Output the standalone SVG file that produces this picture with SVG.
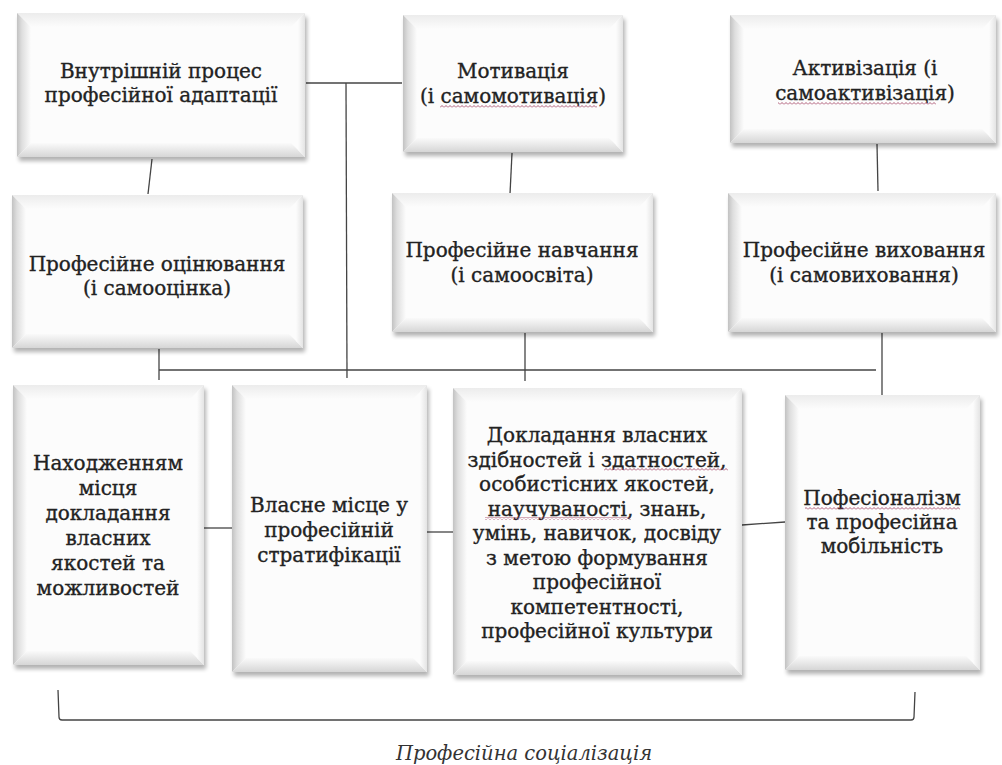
<svg xmlns="http://www.w3.org/2000/svg" width="1002" height="765" viewBox="0 0 1002 765">
<style>
.face{fill:#fcfcfc}
.sh{fill:#000;opacity:.3;filter:url(#blur)}
.bl{fill:url(#gL)}
.bt{fill:url(#gT)}
.bb{fill:url(#gB)}
.br{fill:url(#gR)}
.t{font-family:"DejaVu Serif","Liberation Serif",serif;font-size:20px;fill:#222;stroke:#222;stroke-width:0.35;text-anchor:middle}
.c{fill:none;stroke:#444;stroke-width:1.3}
.w{fill:url(#wave)}
.cap{font-family:"DejaVu Serif","Liberation Serif",serif;font-size:19.5px;font-style:italic;fill:#333;text-anchor:middle}
</style>
<defs>
<filter id="blur" x="-10%" y="-10%" width="120%" height="120%"><feGaussianBlur stdDeviation="2"/></filter>
<linearGradient id="gL" x1="0" y1="0" x2="1" y2="0"><stop offset="0" stop-color="#c2c2c2"/><stop offset="0.35" stop-color="#dedede"/><stop offset="1" stop-color="#fcfcfc"/></linearGradient>
<linearGradient id="gT" x1="0" y1="0" x2="0" y2="1"><stop offset="0" stop-color="#ececec"/><stop offset="1" stop-color="#fcfcfc"/></linearGradient>
<linearGradient id="gB" x1="0" y1="0" x2="0" y2="1"><stop offset="0" stop-color="#fafafa"/><stop offset="1" stop-color="#d6d6d6"/></linearGradient>
<linearGradient id="gR" x1="0" y1="0" x2="1" y2="0"><stop offset="0" stop-color="#fcfcfc"/><stop offset="1" stop-color="#e4e4e4"/></linearGradient>
<pattern id="wave" width="4" height="3" patternUnits="userSpaceOnUse"><path d="M0 2.5 L2 0.5 L4 2.5" fill="none" stroke="#9a3558" stroke-width="0.8"/></pattern>
</defs>
<rect width="1002" height="765" fill="#fff"/>

<g id="connectors">
<path class="c" d="M306 83 H402"/>
<path class="c" d="M346 83 L347 378"/>
<path class="c" d="M152 159 L148 194"/>
<path class="c" d="M512 153 L510 194"/>
<path class="c" d="M877 144 L878 191"/>
<path class="c" d="M159 349 V380"/>
<path class="c" d="M159 370 H876"/>
<path class="c" d="M525 333 V381"/>
<path class="c" d="M882 333 V397"/>
<path class="c" d="M204 528 H232"/>
<path class="c" d="M427 532 H455"/>
<path class="c" d="M742 525 L785 522"/>
<path class="c" d="M58 690 L59 717 Q59 720 62 720 L911 720 Q914 720 914 717 L915 692"/>
</g>

<g id="n1">
<rect class="sh" x="19" y="17" width="288" height="144"/>
<rect class="face" x="17" y="13" width="288" height="144"/>
<polygon class="bt" points="17,13 305,13 291,27 31,27"/>
<polygon class="bl" points="17,13 31,27 31,143 17,157"/>
<polygon class="bb" points="17,157 31,143 291,143 305,157"/>
<polygon class="br" points="305,13 305,157 298,150 298,20"/>
<text class="t" x="161" y="78">Внутрішній процес</text>
<text class="t" x="161" y="102">професійної адаптації</text>
</g>

<g id="n2">
<rect class="sh" x="405" y="19" width="220" height="137"/>
<rect class="face" x="403" y="15" width="220" height="137"/>
<polygon class="bt" points="403,15 623,15 609,29 417,29"/>
<polygon class="bl" points="403,15 417,29 417,138 403,152"/>
<polygon class="bb" points="403,152 417,138 609,138 623,152"/>
<polygon class="br" points="623,15 623,152 616,145 616,22"/>
<text class="t" x="513" y="78">Мотивація</text>
<text class="t" x="513" y="103">(і самомотивація)</text>
<rect class="w" x="440" y="105" width="157" height="3"/>
</g>

<g id="n3">
<rect class="sh" x="732" y="19" width="266" height="128"/>
<rect class="face" x="730" y="15" width="266" height="128"/>
<polygon class="bt" points="730,15 996,15 982,29 744,29"/>
<polygon class="bl" points="730,15 744,29 744,129 730,143"/>
<polygon class="bb" points="730,143 744,129 982,129 996,143"/>
<polygon class="br" points="996,15 996,143 989,136 989,22"/>
<text class="t" x="865" y="75">Активізація (і</text>
<text class="t" x="865" y="100">самоактивізація)</text>
<rect class="w" x="778" y="102" width="158" height="3"/>
</g>

<g id="n4">
<rect class="sh" x="14" y="199" width="291" height="153"/>
<rect class="face" x="12" y="195" width="291" height="153"/>
<polygon class="bt" points="12,195 303,195 289,209 26,209"/>
<polygon class="bl" points="12,195 26,209 26,334 12,348"/>
<polygon class="bb" points="12,348 26,334 289,334 303,348"/>
<polygon class="br" points="303,195 303,348 296,341 296,202"/>
<text class="t" x="157" y="271">Професійне оцінювання</text>
<text class="t" x="157" y="295">(і самооцінка)</text>
</g>

<g id="n5">
<rect class="sh" x="394" y="197" width="261" height="139"/>
<rect class="face" x="392" y="193" width="261" height="139"/>
<polygon class="bt" points="392,193 653,193 639,207 406,207"/>
<polygon class="bl" points="392,193 406,207 406,318 392,332"/>
<polygon class="bb" points="392,332 406,318 639,318 653,332"/>
<polygon class="br" points="653,193 653,332 646,325 646,200"/>
<text class="t" x="522" y="257">Професійне навчання</text>
<text class="t" x="522" y="282">(і самоосвіта)</text>
</g>

<g id="n6">
<rect class="sh" x="730" y="197" width="268" height="139"/>
<rect class="face" x="728" y="193" width="268" height="139"/>
<polygon class="bt" points="728,193 996,193 982,207 742,207"/>
<polygon class="bl" points="728,193 742,207 742,318 728,332"/>
<polygon class="bb" points="728,332 742,318 982,318 996,332"/>
<polygon class="br" points="996,193 996,332 989,325 989,200"/>
<text class="t" x="864" y="257">Професійне виховання</text>
<text class="t" x="864" y="282">(і самовиховання)</text>
</g>

<g id="n7">
<rect class="sh" x="15" y="389" width="191" height="280"/>
<rect class="face" x="13" y="385" width="191" height="280"/>
<polygon class="bt" points="13,385 204,385 190,399 27,399"/>
<polygon class="bl" points="13,385 27,399 27,651 13,665"/>
<polygon class="bb" points="13,665 27,651 190,651 204,665"/>
<polygon class="br" points="204,385 204,665 197,658 197,392"/>
<text class="t" x="108" y="470">Находженням</text>
<text class="t" x="108" y="495">місця</text>
<text class="t" x="108" y="520">докладання</text>
<text class="t" x="108" y="545">власних</text>
<text class="t" x="108" y="570">якостей та</text>
<text class="t" x="108" y="595">можливостей</text>
</g>

<g id="n8">
<rect class="sh" x="234" y="389" width="195" height="287"/>
<rect class="face" x="232" y="385" width="195" height="287"/>
<polygon class="bt" points="232,385 427,385 413,399 246,399"/>
<polygon class="bl" points="232,385 246,399 246,658 232,672"/>
<polygon class="bb" points="232,672 246,658 413,658 427,672"/>
<polygon class="br" points="427,385 427,672 420,665 420,392"/>
<text class="t" x="329" y="512">Власне місце у</text>
<text class="t" x="329" y="537">професійній</text>
<text class="t" x="329" y="562">стратифікації</text>
</g>

<g id="n9">
<rect class="sh" x="455" y="392" width="289" height="287"/>
<rect class="face" x="453" y="388" width="289" height="287"/>
<polygon class="bt" points="453,388 742,388 728,402 467,402"/>
<polygon class="bl" points="453,388 467,402 467,661 453,675"/>
<polygon class="bb" points="453,675 467,661 728,661 742,675"/>
<polygon class="br" points="742,388 742,675 735,668 735,395"/>
<text class="t" x="597" y="442">Докладання власних</text>
<text class="t" x="597" y="466.5">здібностей і здатностей,</text>
<text class="t" x="597" y="491">особистісних якостей,</text>
<text class="t" x="597" y="515.5">научуваності, знань,</text>
<text class="t" x="597" y="540">умінь, навичок, досвіду</text>
<text class="t" x="597" y="564.5">з метою формування</text>
<text class="t" x="597" y="589">професійної</text>
<text class="t" x="597" y="613.5">компетентності,</text>
<text class="t" x="597" y="638">професійної культури</text>
<rect class="w" x="604" y="468" width="124" height="3"/>
<rect class="w" x="485" y="517" width="146" height="3"/>
</g>

<g id="n10">
<rect class="sh" x="787" y="399" width="195" height="275"/>
<rect class="face" x="785" y="395" width="195" height="275"/>
<polygon class="bt" points="785,395 980,395 966,409 799,409"/>
<polygon class="bl" points="785,395 799,409 799,656 785,670"/>
<polygon class="bb" points="785,670 799,656 966,656 980,670"/>
<polygon class="br" points="980,395 980,670 973,663 973,402"/>
<text class="t" x="882" y="505">Пофесіоналізм</text>
<text class="t" x="882" y="529">та професійна</text>
<text class="t" x="882" y="553">мобільність</text>
<rect class="w" x="805" y="507" width="155" height="3"/>
</g>

<text class="cap" x="524" y="760">Професійна соціалізація</text>
</svg>
